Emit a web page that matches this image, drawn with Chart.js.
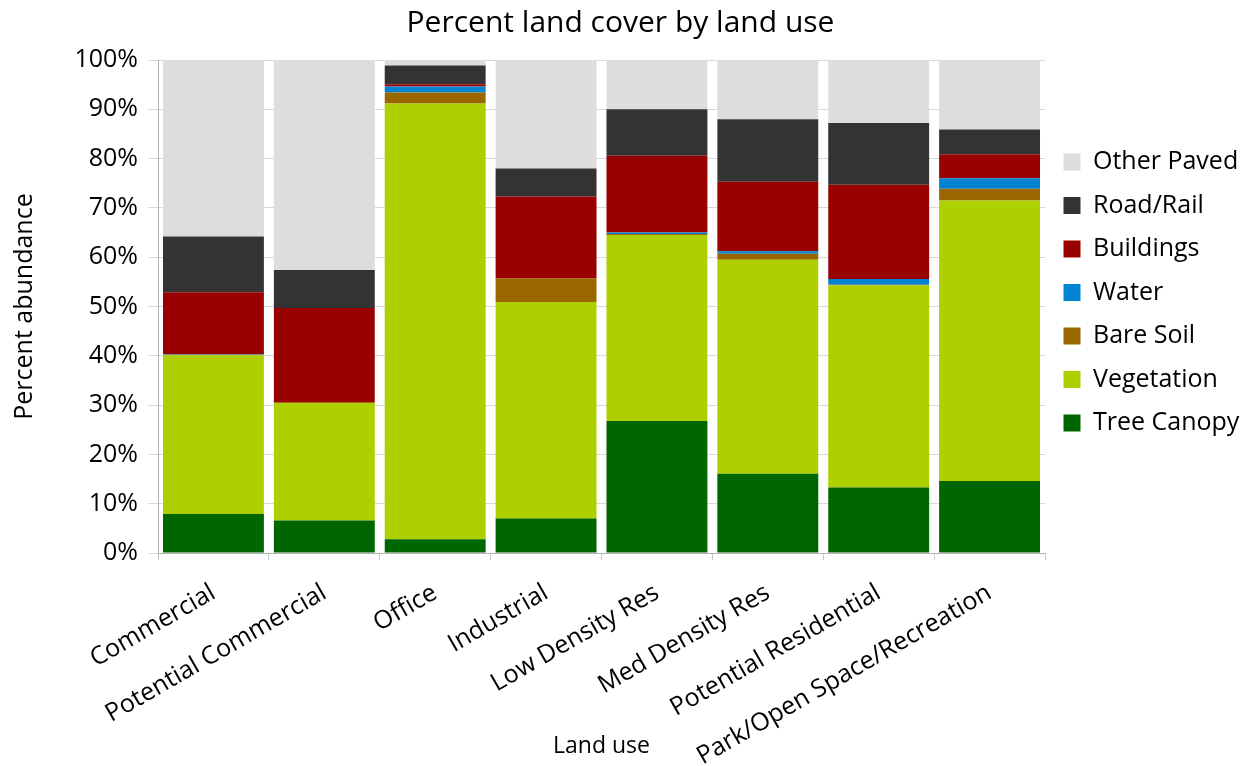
<!DOCTYPE html>
<html>
<head>
<meta charset="utf-8">
<script src="https://cdn.jsdelivr.net/npm/chart.js@4"></script>
<style>
  body { margin: 0; background: #fff; }
  #wrap { width: 1241px; height: 766px; }
</style>
</head>
<body>
<div id="wrap"><canvas id="landChart"></canvas></div>
<script>
const categories = ['Commercial', 'Potential Commercial', 'Office', 'Industrial',
    'Low Density Res', 'Med Density Res', 'Potential Residential', 'Park/Open Space/Recreation'];

const treeCanopy = [7.9, 6.6, 2.8, 7.0, 26.8, 16.1, 13.3, 14.6];
const vegetation = [32.2, 23.9, 88.4, 43.9, 37.7, 43.4, 41.0, 56.9];
const bareSoil   = [0.1, 0, 2.2, 4.8, 0.2, 1.2, 0.1, 2.4];
const water      = [0.1, 0, 1.2, 0, 0.3, 0.5, 1.2, 2.1];
const buildings  = [12.6, 19.2, 0.5, 16.6, 15.6, 14.1, 19.1, 4.9];
const roadRail   = [11.3, 7.7, 3.8, 5.7, 9.4, 12.7, 12.5, 5.0];
const otherPaved = [35.8, 42.6, 1.1, 22.0, 10.0, 12.0, 12.8, 14.1];

const yTicks = [0, 10, 20, 30, 40, 50, 60, 70, 80, 90, 100];

const font = 'Open Sans';

function series(label, data, color) {
    return {
        label: label,
        data: data,
        backgroundColor: color,
        borderWidth: 0,
        barPercentage: 0.91,
        categoryPercentage: 1
    };
}

const datasets = [
    series('Tree Canopy', treeCanopy, '#006600'),
    series('Vegetation', vegetation, '#aecf00'),
    series('Bare Soil', bareSoil, '#996600'),
    series('Water', water, '#0084d1'),
    series('Buildings', buildings, '#990000'),
    series('Road/Rail', roadRail, '#333333'),
    series('Other Paved', otherPaved, '#dddddd')
];

new Chart(document.getElementById('landChart'), {
    type: 'bar',
    data: { labels: categories, datasets: datasets },
    options: {
        responsive: true,
        maintainAspectRatio: false,
        animation: false,
        layout: { padding: { left: 0, right: 0, top: 0, bottom: 0 } },
        plugins: {
            title: {
                display: true,
                text: 'Percent land cover by land use',
                color: '#000',
                font: { family: font, size: 30, weight: 'normal' },
                padding: { top: 5, bottom: 19 }
            },
            legend: {
                position: 'right',
                fullSize: false,
                align: 'start',
                reverse: true,
                maxWidth: 196,
                title: {
                    display: true,
                    text: ' ',
                    font: { size: 12 },
                    padding: { top: 56.6, bottom: 0 }
                },
                labels: {
                    color: '#000',
                    font: { family: font, size: 25 },
                    boxWidth: 17,
                    boxHeight: 17,
                    padding: 18.5
                }
            },
            tooltip: { enabled: false }
        },
        scales: {
            x: {
                stacked: true,
                grid: {
                    display: true,
                    drawOnChartArea: false,
                    offset: true,
                    color: '#c8c8c8',
                    tickLength: 7
                },
                border: { color: '#b3b3b3' },
                ticks: {
                    color: '#000',
                    font: { family: font, size: 25 },
                    minRotation: 30,
                    maxRotation: 30,
                    padding: 18,
                    autoSkip: false
                },
                title: {
                    display: true,
                    text: 'Land use',
                    color: '#000',
                    font: { family: font, size: 23 },
                    padding: { top: 4, bottom: 6 }
                },
                afterFit: (scale) => { scale.height = 213; }
            },
            y: {
                stacked: true,
                min: 0,
                max: 100,
                afterBuildTicks: (scale) => { scale.ticks = yTicks.map(v => ({ value: v })); },
                grid: { color: '#d9d9d9', tickLength: 10 },
                border: { color: '#b3b3b3' },
                ticks: {
                    color: '#000',
                    font: { family: font, size: 25 },
                    padding: 10,
                    callback: (v) => v + '%'
                },
                title: {
                    display: true,
                    text: 'Percent abundance',
                    color: '#000',
                    font: { family: font, size: 25 },
                    padding: { top: 10, bottom: 4 }
                },
                afterFit: (scale) => { scale.width = 158; }
            }
        }
    }
});
</script>
</body>
</html>
